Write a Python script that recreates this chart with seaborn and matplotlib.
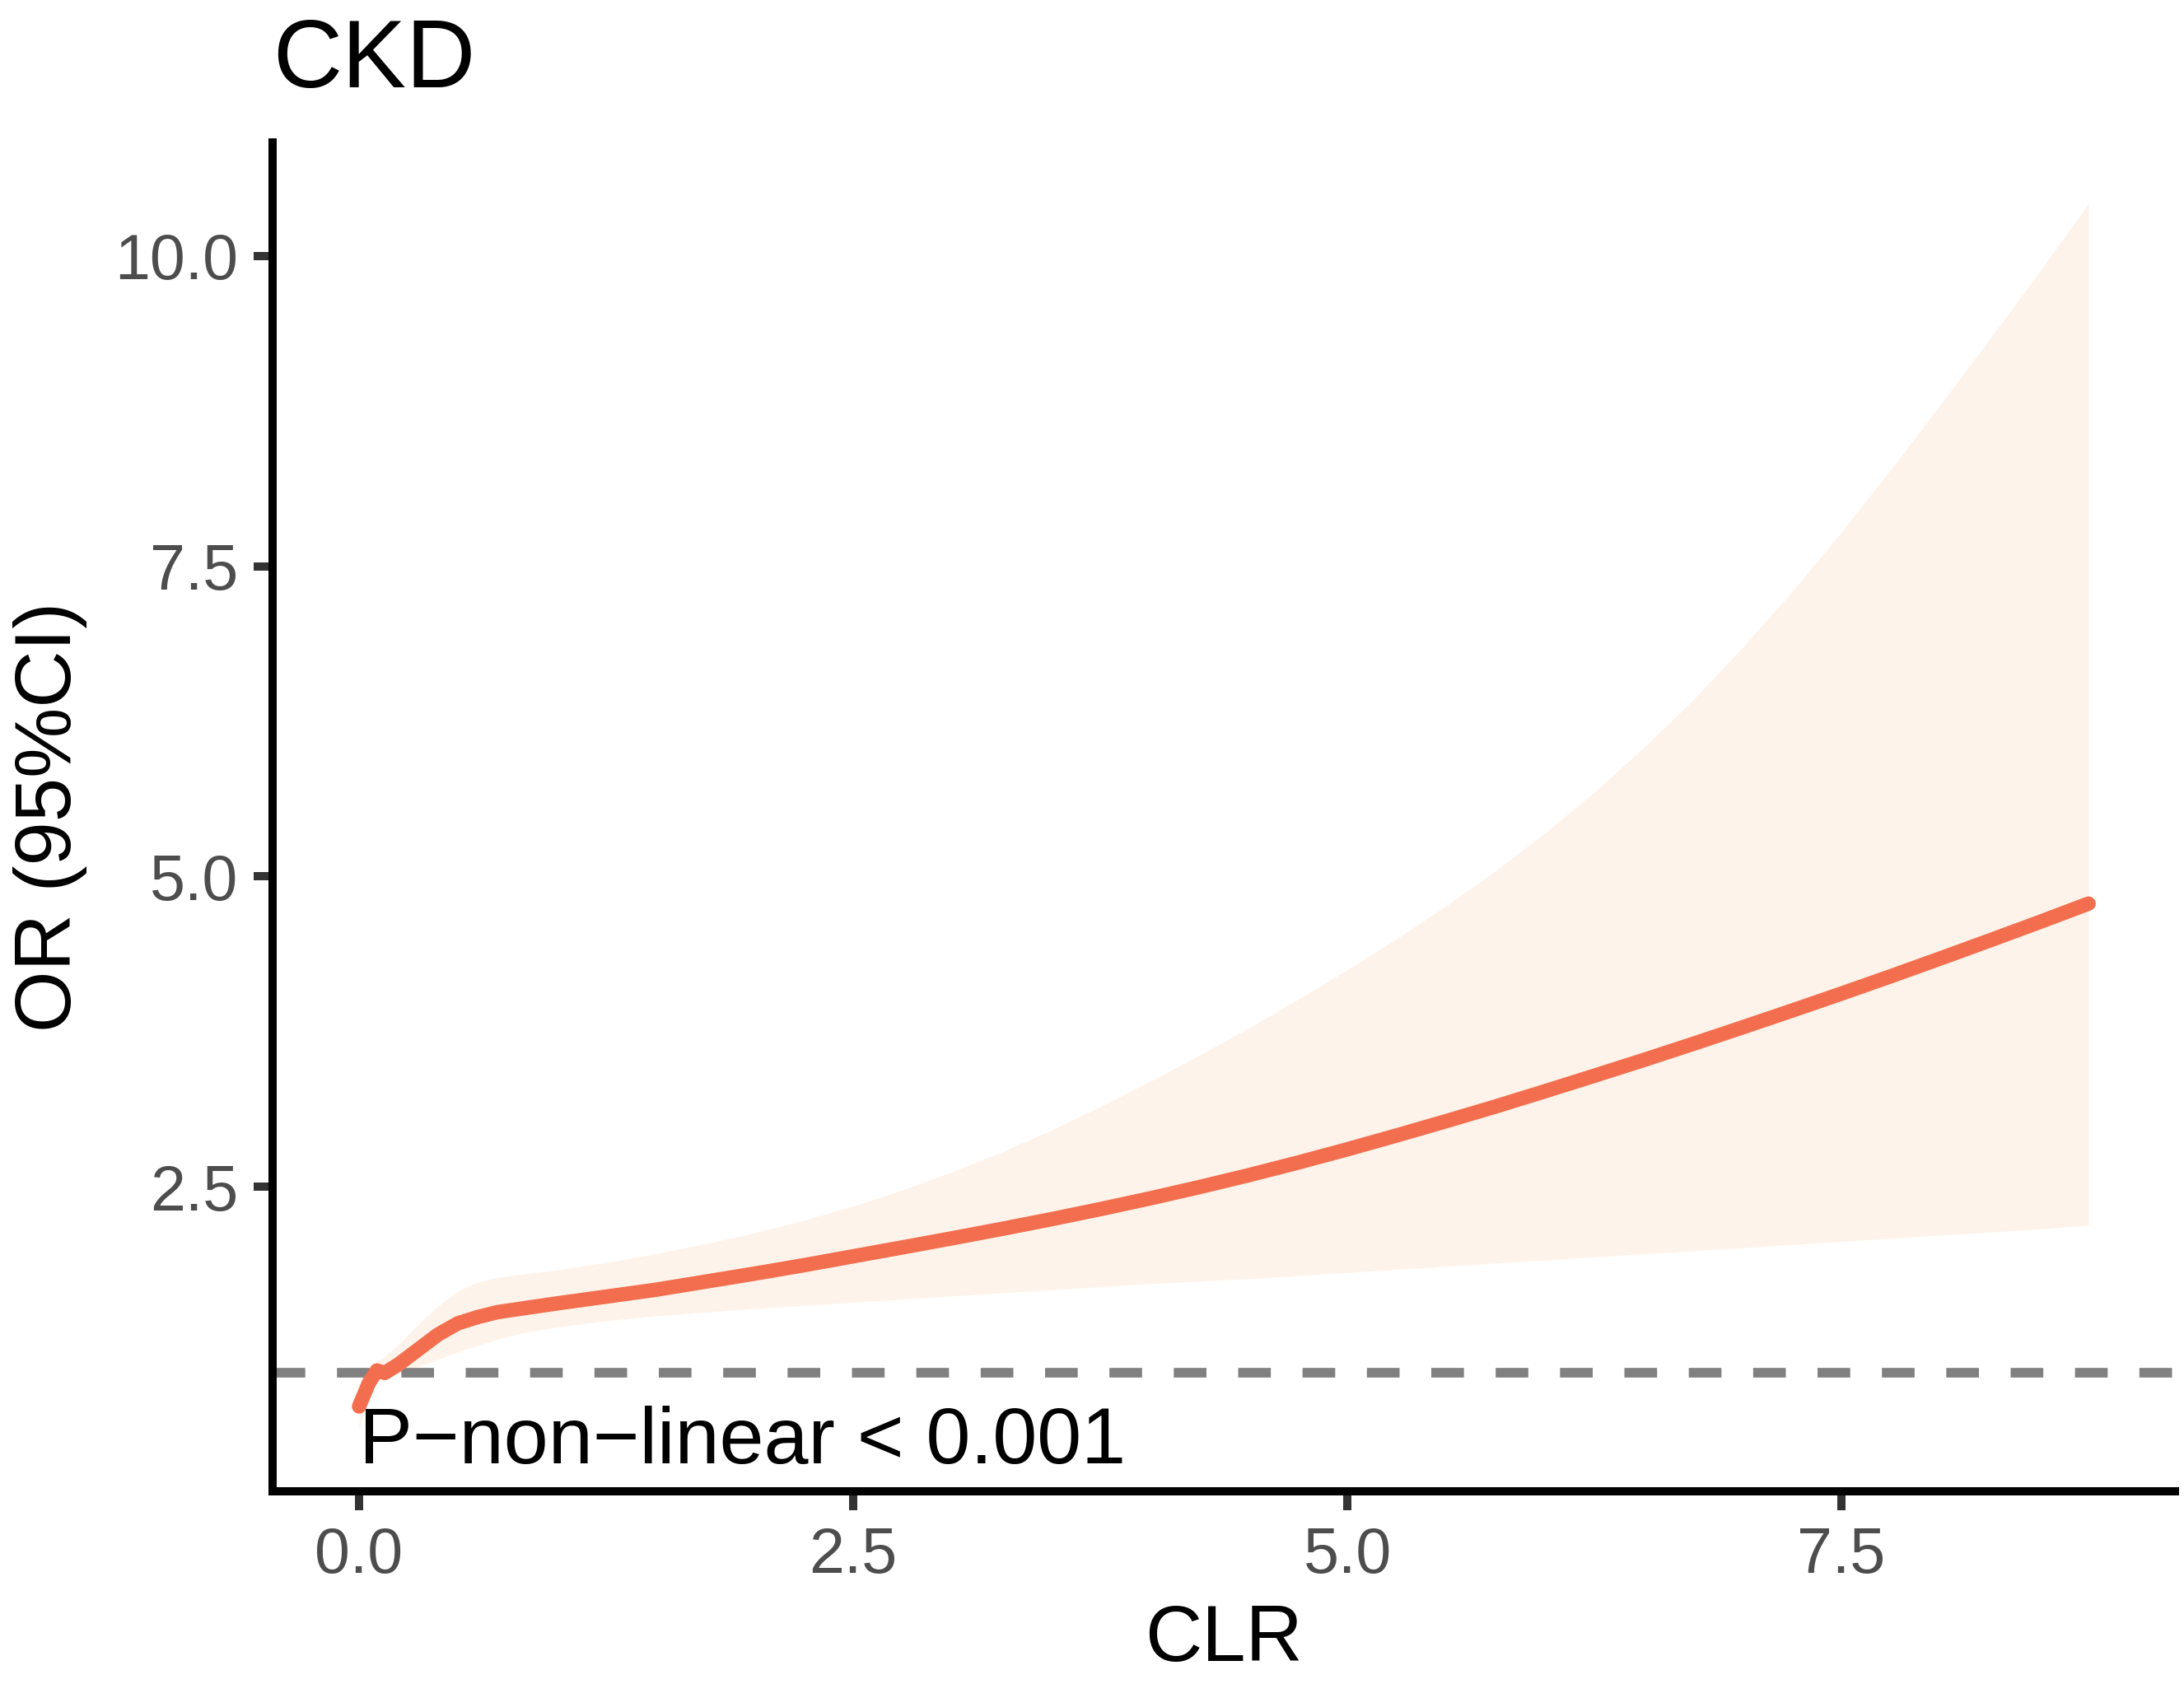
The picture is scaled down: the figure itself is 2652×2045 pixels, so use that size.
import numpy as np
import pandas as pd
import matplotlib
matplotlib.use("Agg")
import matplotlib.pyplot as plt
import seaborn as sns

# ---- data ----
clr = [0.0, 0.05, 0.09, 0.13, 0.2, 0.3, 0.4, 0.5, 0.6, 0.7, 0.85, 1.0, 1.25, 1.5, 1.75,
       2.0, 2.25, 2.5, 2.75, 3.0, 3.25, 3.5, 3.75, 4.0, 4.25, 4.5, 4.75, 5.0, 5.25,
       5.5, 5.75, 6.0, 6.25, 6.5, 6.75, 7.0, 7.25, 7.5, 7.75, 8.0, 8.25, 8.5, 8.75]
or_est = [0.73, 0.92, 1.02, 1.00, 1.07, 1.19, 1.31, 1.40, 1.45, 1.49, 1.525, 1.56, 1.615, 1.67, 1.735,
          1.80, 1.868, 1.94, 2.012, 2.085, 2.16, 2.238, 2.32, 2.406, 2.497, 2.593, 2.695, 2.802, 2.914,
          3.029, 3.147, 3.27, 3.395, 3.522, 3.652, 3.785, 3.92, 4.057, 4.197, 4.34, 4.485, 4.632, 4.782]
or_lower = [0.54, 0.84, 0.95, 0.96, 1.00, 1.05, 1.11, 1.17, 1.22, 1.27, 1.33, 1.37, 1.42, 1.46, 1.49,
            1.52, 1.545, 1.57, 1.595, 1.62, 1.645, 1.67, 1.695, 1.72, 1.74, 1.76, 1.785, 1.81, 1.835,
            1.86, 1.885, 1.91, 1.935, 1.96, 1.985, 2.01, 2.035, 2.06, 2.085, 2.11, 2.135, 2.16, 2.19]
or_upper = [0.90, 1.00, 1.10, 1.13, 1.23, 1.39, 1.54, 1.66, 1.73, 1.77, 1.80, 1.83, 1.89, 1.96, 2.04,
            2.13, 2.23, 2.345, 2.475, 2.62, 2.78, 2.955, 3.145, 3.348, 3.559, 3.779, 4.009, 4.249, 4.499,
            4.764, 5.046, 5.351, 5.681, 6.039, 6.426, 6.846, 7.296, 7.776, 8.281, 8.801, 9.331, 9.871, 10.421]
x_ticks = [0.0, 2.5, 5.0, 7.5]
y_ticks = [2.5, 5.0, 7.5, 10.0]
ref_line = 1.0
title_text = "CKD"
x_label = "CLR"
y_label = "OR (95%CI)"
p_text = "P\u2212non\u2212linear < 0.001"

df = pd.DataFrame({"CLR": clr, "OR": or_est, "lower": or_lower, "upper": or_upper})

sns.set_theme(style="ticks")
plt.rcParams["font.family"] = ["Liberation Sans", "DejaVu Sans"]

fig = plt.figure(figsize=(2652 / 300, 2045 / 300), dpi=300)
ax = fig.add_axes([0.1248, 0.1144, 0.8711, 0.8010])

ax.fill_between(df["CLR"], df["lower"], df["upper"], color="#FEF3EA", linewidth=0, zorder=1)
ax.axhline(ref_line, color="#808080", linewidth=2.8, dashes=(3.4, 3.3), zorder=2)
sns.lineplot(data=df, x="CLR", y="OR", ax=ax, color="#F36E4E", linewidth=4.2,
             zorder=3, estimator=None, sort=False)

ax.text(0.0, 0.27, p_text, fontsize=23.3, color="black", ha="left", va="baseline", zorder=4)

# ggplot-like expansion
xr = max(clr) - min(clr)
ax.set_xlim(min(clr) - 0.05 * xr, max(clr) + 0.05 * xr)
ylo, yhi = min(or_lower), max(or_upper)
yr = yhi - ylo
ax.set_ylim(ylo - 0.05 * yr, yhi + 0.05 * yr)

ax.set_xticks(x_ticks)
ax.set_xticklabels([f"{v:.1f}" for v in x_ticks])
ax.set_yticks(y_ticks)
ax.set_yticklabels([f"{v:.1f}" for v in y_ticks])

for side in ["top", "right"]:
    ax.spines[side].set_visible(False)
for side in ["left", "bottom"]:
    ax.spines[side].set_linewidth(2.4)
    ax.spines[side].set_color("black")

ax.tick_params(axis="both", length=5.6, width=2.4, color="#333333",
               labelsize=18.5, labelcolor="#4D4D4D", pad=4.5)

ax.set_xlabel(x_label, fontsize=23, color="black", labelpad=5)
ax.set_ylabel(y_label, fontsize=23, color="black", labelpad=8)
ax.set_title(title_text, loc="left", fontsize=28, color="black", pad=16)

fig.savefig("out.png", dpi=300, facecolor="white")
